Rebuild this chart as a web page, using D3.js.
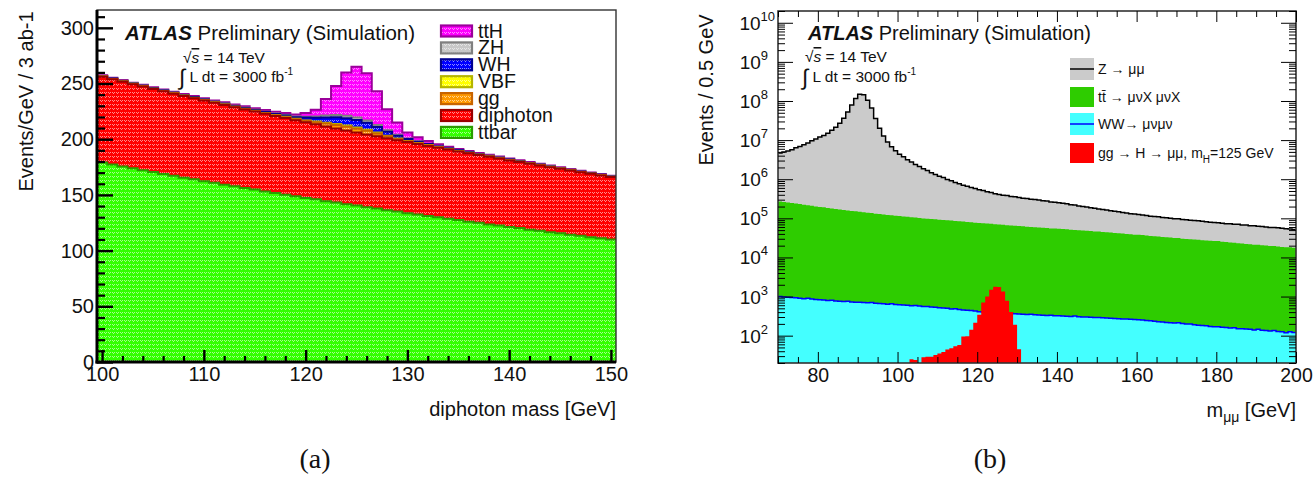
<!DOCTYPE html>
<html><head><meta charset="utf-8">
<script src="https://cdn.jsdelivr.net/npm/d3@7"></script>
<style>
body{margin:0;background:#fff;}
svg{display:block;}
</style></head><body>
<svg id="c" width="1314" height="490"></svg>
<script>
// ---------------- DATA: panel (a) diphoton mass, 1 GeV bins centred 100..150 ----------------
const gamBinCenters = d3.range(100, 151);
const gamTtbar = [179.0,177.4,175.5,174.0,172.1,170.6,168.7,167.3,165.5,164.1,
162.3,160.9,159.2,157.8,156.1,154.8,153.1,151.8,150.1,148.9,
147.2,146.0,144.4,143.2,141.6,140.4,138.9,137.7,136.2,135.1,
133.6,132.5,131.0,129.9,128.5,127.4,126.0,125.0,123.5,122.5,
121.2,120.2,118.8,117.9,116.5,115.6,114.3,113.4,112.1,111.2,110.0];
const gamDiphoton = [77.0,76.4,76.1,75.4,75.2,74.5,74.3,73.6,73.3,72.7,
72.4,71.8,71.5,70.9,70.6,70.0,69.7,69.1,68.9,68.2,
68.0,67.4,67.1,66.5,66.3,65.7,65.4,64.9,64.6,64.0,
63.8,63.2,63.0,62.4,62.2,61.6,61.4,60.8,60.7,60.1,
59.8,59.3,59.1,58.5,58.4,57.8,57.6,57.0,56.8,56.3,56.0];
const gamGG = [0.2,0.2,0.2,0.2,0.2,0.2,0.2,0.3,0.3,0.3,
0.3,0.3,0.4,0.4,0.4,0.5,0.5,0.6,
0.8,0.9,1.3,1.8,2.5,3.0,3.3,3.4,3.2,2.6,1.8,1.2,0.8,0.6,0.5,0.4,0.3,
0.3,0.3,0.2,0.2,0.2,0.2,0.2,0.2,0.2,0.2,0.1,0.1,0.1,0.1,0.1,0.1];
const gamVBF = [0.1,0.1,0.1,0.1,0.1,0.1,0.1,0.1,0.1,0.1,
0.1,0.1,0.1,0.1,0.2,0.2,0.2,0.2,
0.3,0.3,0.4,0.6,0.8,1.0,1.1,1.1,1.0,0.8,0.6,0.4,0.3,0.2,0.2,0.1,0.1,
0.1,0.1,0.1,0.1,0.1,0.1,0.1,0.1,0.1,0.1,0.1,0.1,0.1,0.1,0.1,0.1];
const gamWH = [0.4,0.4,0.4,0.4,0.5,0.5,0.5,0.5,0.5,0.6,
0.6,0.6,0.7,0.7,0.8,0.8,0.9,1.0,
1.2,1.5,2.5,3.5,4.8,6.0,6.5,6.6,6.2,5.0,3.6,2.5,1.6,1.2,0.9,0.7,0.6,
0.6,0.5,0.5,0.5,0.5,0.4,0.4,0.4,0.4,0.4,0.4,0.3,0.3,0.3,0.3,0.3];
const gamZH = [0.1,0.1,0.1,0.1,0.1,0.1,0.1,0.1,0.1,0.1,
0.1,0.1,0.2,0.2,0.2,0.2,0.3,0.3,
0.4,0.5,0.8,1.1,1.6,2.0,2.3,2.4,2.2,1.8,1.3,0.9,0.6,0.4,0.3,0.2,0.2,
0.1,0.1,0.1,0.1,0.1,0.1,0.1,0.1,0.1,0.1,0.1,0.1,0.1,0.1,0.1,0.1];
const gamTtH = [0.6,0.6,0.7,0.6,0.7,0.7,0.7,0.8,0.8,0.8,
0.9,0.9,1.0,1.1,1.2,1.3,1.5,1.6,
1.8,1.8,3.3,6.0,14.8,26.0,38.8,45.5,42.4,30.3,18.7,11.0,5.4,3.6,2.6,1.8,1.4,
1.2,1.1,1.0,0.9,0.9,0.8,0.8,0.8,0.7,0.7,0.7,0.7,0.6,0.6,0.6,0.6];
const gamYTicks = [0, 50, 100, 150, 200, 250, 300];
const gamXTicks = [100, 110, 120, 130, 140, 150];
const gamLegend = ["ttH", "ZH", "WH", "VBF", "gg", "diphoton", "ttbar"];

// ---------------- DATA: panel (b) m_mumu, 1 GeV bins, lower edges 70..199 ----------------
const mmBinLow = d3.range(70, 200);
const mmZ = [4.41e6,4.72e6,5.02e6,5.46e6,6.10e6,6.65e6,7.40e6,8.25e6,9.40e6,1.05e7,
1.18e7,1.30e7,1.49e7,1.76e7,2.12e7,2.67e7,3.60e7,5.20e7,7.90e7,1.15e8,
1.48e8,1.45e8,1.05e8,6.60e7,3.55e7,2.00e7,1.26e7,8.80e6,6.65e6,5.25e6,
4.25e6,3.62e6,3.03e6,2.66e6,2.27e6,2.00e6,1.75e6,1.57e6,1.37e6,1.23e6,
1.10e6,1.02e6,9.00e5,8.30e5,7.40e5,6.80e5,6.20e5,5.85e5,5.35e5,5.00e5,
4.60e5,4.40e5,4.02e5,3.88e5,3.55e5,3.40e5,3.20e5,3.15e5,2.95e5,2.92e5,
2.76e5,2.66e5,2.60e5,2.45e5,2.42e5,2.35e5,2.24e5,2.20e5,2.08e5,2.02e5,
1.97e5,1.88e5,1.83e5,1.72e5,1.68e5,1.58e5,1.52e5,1.46e5,1.38e5,1.34e5,
1.28e5,1.23e5,1.18e5,1.13e5,1.10e5,1.06e5,1.00e5,9.80e4,9.20e4,9.00e4,
8.80e4,8.40e4,8.20e4,7.80e4,7.70e4,7.50e4,7.20e4,7.00e4,6.80e4,6.70e4,
6.60e4,6.30e4,6.20e4,6.00e4,5.90e4,5.80e4,5.60e4,5.50e4,5.30e4,5.25e4,
5.10e4,5.00e4,4.80e4,4.90e4,4.70e4,4.70e4,4.50e4,4.50e4,4.30e4,4.30e4,
4.20e4,4.10e4,4.00e4,3.90e4,3.90e4,3.80e4,3.70e4,3.60e4,3.55e4,3.45e4];
const mmTT = [2.68e5,2.60e5,2.52e5,2.45e5,2.37e5,2.30e5,2.22e5,2.16e5,2.08e5,2.01e5,
1.94e5,1.90e5,1.83e5,1.78e5,1.73e5,1.67e5,1.63e5,1.58e5,1.53e5,1.50e5,
1.47e5,1.42e5,1.38e5,1.36e5,1.31e5,1.28e5,1.25e5,1.21e5,1.19e5,1.16e5,
1.14e5,1.11e5,1.09e5,1.06e5,1.04e5,1.01e5,9.9e4,9.7e4,9.5e4,9.4e4,
9.2e4,9.0e4,8.9e4,8.7e4,8.5e4,8.4e4,8.2e4,8.0e4,7.9e4,7.7e4,
7.6e4,7.4e4,7.3e4,7.2e4,7.0e4,6.9e4,6.8e4,6.6e4,6.5e4,6.4e4,
6.3e4,6.2e4,6.1e4,6.0e4,5.9e4,5.8e4,5.7e4,5.6e4,5.5e4,5.45e4,
5.4e4,5.3e4,5.2e4,5.1e4,5.0e4,4.95e4,4.85e4,4.75e4,4.7e4,4.6e4,
4.55e4,4.45e4,4.4e4,4.3e4,4.2e4,4.15e4,4.05e4,3.95e4,3.9e4,3.8e4,
3.75e4,3.7e4,3.6e4,3.5e4,3.45e4,3.4e4,3.3e4,3.25e4,3.2e4,3.1e4,
3.1e4,3.0e4,2.95e4,2.9e4,2.85e4,2.8e4,2.75e4,2.7e4,2.65e4,2.6e4,
2.6e4,2.5e4,2.45e4,2.4e4,2.35e4,2.3e4,2.25e4,2.2e4,2.15e4,2.1e4,
2.1e4,2.05e4,2.0e4,1.95e4,1.95e4,1.9e4,1.85e4,1.8e4,1.8e4,1.75e4];
const mmWW = [1000,980,960,950,930,910,880,900,860,840,
830,820,790,800,770,760,745,760,730,720,
720,700,690,700,670,660,650,640,650,630,
620,610,600,580,590,570,555,560,540,530,
520,510,500,480,490,470,455,445,440,425,
410,405,400,395,390,380,385,375,370,365,
360,355,350,355,345,340,335,330,335,325,
325,320,315,310,318,305,300,300,295,290,
290,285,282,278,275,272,268,265,262,258,
257,250,245,242,235,228,225,218,215,212,
215,205,200,198,190,185,182,178,172,170,
170,165,162,158,160,150,150,148,145,140,
145,138,135,132,135,128,125,118,125,120];
const mmSigLow = d3.range(103, 131);
const mmSig = [25,24,0,28,29,29,32,35,38,44,48,54,58,95,96,142,214,344,700,1000,1500,1790,1750,1350,780,400,190,45];
const mmXTicks = [80, 100, 120, 140, 160, 180, 200];
const mmYDecades = [2, 3, 4, 5, 6, 7, 8, 9, 10];

// ---------------- DRAWING ----------------
const FONT = '"Liberation Sans", Arial, Helvetica, sans-serif';
const svg = d3.select('#c').attr('font-family', FONT);
const defs = svg.append('defs');

function makePattern(id, color) {
  const p = defs.append('pattern').attr('id', id).attr('patternUnits', 'userSpaceOnUse')
    .attr('width', 4).attr('height', 4);
  p.append('rect').attr('width', 4).attr('height', 4).attr('fill', color);
  [[0,0],[2,0],[1,1]].forEach(([x,y]) => {
    p.append('rect').attr('x', x).attr('y', y).attr('width', 1).attr('height', 1)
      .attr('fill', '#fff').attr('opacity', 0.55);
  });
  return `url(#${id})`;
}

function styleAxis(g, size) {
  g.select('.domain').remove();
  g.attr('font-size', null).attr('font-family', null);
  g.selectAll('text').attr('font-size', size).attr('font-family', FONT).attr('fill', '#111');
}

// ===== Panel (a) =====
const A = {x0: 97, x1: 616, y0: 10, y1: 362};
const xA = d3.scaleLinear().domain([99.5, 150.5]).range([A.x0, A.x1]);
const yA = d3.scaleLinear().domain([0, 316]).range([A.y1, A.y0]);

defs.append('clipPath').attr('id', 'clipA').append('rect')
  .attr('x', A.x0).attr('y', A.y0).attr('width', A.x1 - A.x0).attr('height', A.y1 - A.y0);

const gamSeries = [
  {key: 'ttbar', vals: gamTtbar, fill: '#33ff00', line: '#2a9c00'},
  {key: 'diphoton', vals: gamDiphoton, fill: '#ff0000', line: '#9a0000'},
  {key: 'gg', vals: gamGG, fill: '#ff9900', line: '#c86400'},
  {key: 'VBF', vals: gamVBF, fill: '#ffff00', line: '#b4b400'},
  {key: 'WH', vals: gamWH, fill: '#0000ff', line: '#000090'},
  {key: 'ZH', vals: gamZH, fill: '#c8c8c8', line: '#808080'},
  {key: 'ttH', vals: gamTtH, fill: '#ff00ff', line: '#9a009a'}
];
gamSeries.forEach(s => s.pat = makePattern('p_' + s.key, s.fill));
const gamRows = gamBinCenters.map((c, i) => {
  const r = {c};
  gamSeries.forEach(s => r[s.key] = s.vals[i]);
  return r;
});
const gamStack = d3.stack().keys(gamSeries.map(s => s.key))(gamRows);

const gA = svg.append('g').attr('clip-path', 'url(#clipA)');
const stepArea = (xs, ys, yb) => d3.area().curve(d3.curveStepAfter)
  .x(d => xs(d[0])).y0(yb).y1(d => ys(d[1]));
const stepLine = (xs, ys) => d3.line().curve(d3.curveStepAfter).x(d => xs(d[0])).y(d => ys(d[1]));

// ROOT-like: draw the cumulative sum of the top series first
for (let k = gamSeries.length - 1; k >= 0; k--) {
  const layer = gamStack[k];
  const pts = layer.map((d, i) => [gamBinCenters[i] - 0.5, d[1]]);
  pts.push([gamBinCenters[gamBinCenters.length - 1] + 0.5, layer[layer.length - 1][1]]);
  gA.append('path').attr('d', stepArea(xA, yA, A.y1)(pts)).attr('fill', gamSeries[k].pat);
  gA.append('path').attr('d', stepLine(xA, yA)(pts)).attr('fill', 'none')
    .attr('stroke', gamSeries[k].line).attr('stroke-width', 2);
}

// frame
svg.append('rect').attr('x', A.x0).attr('y', A.y0).attr('width', A.x1 - A.x0).attr('height', A.y1 - A.y0)
  .attr('fill', 'none').attr('stroke', '#333').attr('stroke-width', 1.4);

// axes (a)
const gYA = svg.append('g').attr('transform', `translate(${A.x0},0)`)
  .call(d3.axisLeft(yA).tickValues(gamYTicks).tickSizeInner(-16).tickSizeOuter(0).tickPadding(3));
styleAxis(gYA, 20);
gYA.selectAll('line').attr('stroke', '#000').attr('stroke-width', 2.4);
const gYAm = svg.append('g').attr('transform', `translate(${A.x0},0)`)
  .call(d3.axisLeft(yA).tickValues(d3.range(0, 316, 10).filter(v => v % 50)).tickSize(-8).tickFormat(''));
styleAxis(gYAm, 10);
gYAm.selectAll('line').attr('stroke', '#000').attr('stroke-width', 2.2);

const gXA = svg.append('g').attr('transform', `translate(0,${A.y1})`)
  .call(d3.axisBottom(xA).tickValues(gamXTicks).tickSizeInner(-12).tickSizeOuter(0).tickPadding(5).tickFormat(d3.format('d')));
styleAxis(gXA, 20);
gXA.selectAll('line').attr('stroke', '#000').attr('stroke-width', 2.4);
const gXAm = svg.append('g').attr('transform', `translate(0,${A.y1})`)
  .call(d3.axisBottom(xA).tickValues(d3.range(100, 151, 2).filter(v => v % 10)).tickSize(-6).tickFormat(''));
styleAxis(gXAm, 10);
gXAm.selectAll('line').attr('stroke', '#000').attr('stroke-width', 2.2);

svg.append('line').attr('x1', A.x0).attr('x2', A.x0).attr('y1', A.y0).attr('y2', A.y1 + 1.5)
  .attr('stroke', '#000').attr('stroke-width', 3);
svg.append('line').attr('x1', A.x0 - 1.5).attr('x2', A.x1).attr('y1', A.y1).attr('y2', A.y1)
  .attr('stroke', '#000').attr('stroke-width', 3);

// titles (a)
svg.append('text').attr('transform', `translate(33,${(A.y0 + 193) / 2}) rotate(-90)`)
  .attr('text-anchor', 'middle').attr('font-size', 20).attr('fill', '#111').text('Events/GeV / 3 ab-1');
svg.append('text').attr('x', A.x1).attr('y', 416).attr('text-anchor', 'end')
  .attr('font-size', 20).attr('fill', '#111').text('diphoton mass [GeV]');

function atlasLabel(x, y, size) {
  const t = svg.append('text').attr('x', x).attr('y', y).attr('font-size', size).attr('fill', '#111');
  t.append('tspan').attr('font-weight', 'bold').attr('font-style', 'italic').text('ATLAS');
  t.append('tspan').text(' Preliminary (Simulation)');
}
function energyLabel(x, y, size) {
  const t = svg.append('text').attr('x', x).attr('y', y).attr('font-size', size).attr('fill', '#111');
  t.append('tspan').text('√');
  t.append('tspan').attr('font-style', 'italic').attr('text-decoration', 'overline').text('s');
  t.append('tspan').text(' = 14 TeV');
}
function lumiLabel(x, y, size) {
  const t = svg.append('text').attr('x', x).attr('y', y).attr('font-size', size).attr('fill', '#111');
  t.append('tspan').attr('font-size', size * 1.45).attr('dy', 3).text('∫');
  t.append('tspan').attr('dy', -3).text(' L dt = 3000 fb');
  t.append('tspan').attr('font-size', size * 0.65).attr('dy', -7).text('-1');
}
atlasLabel(125, 40, 20.5);
energyLabel(183, 63, 15.5);
lumiLabel(179, 82, 15.5);

// legend (a)
const legA = svg.append('g');
gamLegend.forEach((name, i) => {
  const s = gamSeries.find(d => d.key === name);
  const yc = 31 + i * 16.9;
  legA.append('rect').attr('x', 441).attr('y', yc - 5.5).attr('width', 31).attr('height', 11)
    .attr('fill', s.pat).attr('stroke', s.line).attr('stroke-width', 2.2);
  legA.append('text').attr('x', 478).attr('y', yc + 6.5).attr('font-size', 19.5).attr('fill', '#111').text(name);
});

// ===== Panel (b) =====
const B = {x0: 778, x1: 1296, y0: 11, y1: 363};
const xB = d3.scaleLinear().domain([70, 200]).range([B.x0, B.x1]);
const yB = d3.scaleLog().domain([20, 2e10]).range([B.y1, B.y0]).clamp(true);
const yBsafe = v => yB(Math.max(v, 20));

defs.append('clipPath').attr('id', 'clipB').append('rect')
  .attr('x', B.x0).attr('y', B.y0).attr('width', B.x1 - B.x0).attr('height', B.y1 - B.y0);

const mmRows = mmBinLow.map((lo, i) => ({lo, WW: mmWW[i], tt: mmTT[i], Z: mmZ[i]}));
const mmStack = d3.stack().keys(['WW', 'tt', 'Z'])(mmRows);
const mmPts = layer => {
  const p = layer.map((d, i) => [mmBinLow[i], d[1]]);
  p.push([mmBinLow[mmBinLow.length - 1] + 1, layer[layer.length - 1][1]]);
  return p;
};
const gB = svg.append('g').attr('clip-path', 'url(#clipB)');
const areaB = d3.area().curve(d3.curveStepAfter).x(d => xB(d[0])).y0(B.y1).y1(d => yBsafe(d[1]));
const lineB = d3.line().curve(d3.curveStepAfter).x(d => xB(d[0])).y(d => yBsafe(d[1]));

const ptsZ = mmPts(mmStack[2]), ptsT = mmPts(mmStack[1]), ptsW = mmPts(mmStack[0]);
gB.append('path').attr('d', areaB(ptsZ)).attr('fill', '#cbcbcb');
gB.append('path').attr('d', areaB(ptsT)).attr('fill', '#2ecc00');
gB.append('path').attr('d', areaB(ptsW)).attr('fill', '#44ffff');
gB.append('path').attr('d', lineB(ptsZ)).attr('fill', 'none').attr('stroke', '#000').attr('stroke-width', 1.5);
gB.append('path').attr('d', lineB(ptsW)).attr('fill', 'none').attr('stroke', '#0000ff').attr('stroke-width', 1.5);
const sigPts = mmSig.map((v, i) => [mmSigLow[i], v]);
sigPts.push([mmSigLow[mmSigLow.length - 1] + 1, 0]);
gB.append('path').attr('d', areaB(sigPts)).attr('fill', '#ff0000');

// frame (b)
svg.append('rect').attr('x', B.x0).attr('y', B.y0).attr('width', B.x1 - B.x0).attr('height', B.y1 - B.y0)
  .attr('fill', 'none').attr('stroke', '#333').attr('stroke-width', 1.6);

// x axis (b)
const gXB = svg.append('g').attr('transform', `translate(0,${B.y1})`)
  .call(d3.axisBottom(xB).tickValues(mmXTicks).tickSizeInner(-11).tickSizeOuter(0).tickPadding(5));
styleAxis(gXB, 19.5);
const minorX = d3.range(70, 201, 5).filter(v => v % 20);
const gXBm = svg.append('g').attr('transform', `translate(0,${B.y1})`)
  .call(d3.axisBottom(xB).tickValues(minorX).tickSize(-6).tickFormat(''));
styleAxis(gXBm, 10);
const gXBt = svg.append('g').attr('transform', `translate(0,${B.y0})`)
  .call(d3.axisTop(xB).tickValues(mmXTicks).tickSize(-11).tickFormat(''));
styleAxis(gXBt, 10);
const gXBtm = svg.append('g').attr('transform', `translate(0,${B.y0})`)
  .call(d3.axisTop(xB).tickValues(minorX).tickSize(-6).tickFormat(''));
styleAxis(gXBtm, 10);

// y axis (b)
const majorY = mmYDecades.map(e => Math.pow(10, e));
const minorY = [];
for (let e = 1; e <= 10; e++) for (let k = 2; k <= 9; k++) {
  const v = k * Math.pow(10, e);
  if (v >= 20 && v <= 2e10) minorY.push(v);
}
[[d3.axisLeft, B.x0], [d3.axisRight, B.x1]].forEach(([ax, xpos]) => {
  const g1 = svg.append('g').attr('transform', `translate(${xpos},0)`)
    .call(ax(yB).tickValues(majorY).tickSize(-15).tickFormat(''));
  styleAxis(g1, 10);
  const g2 = svg.append('g').attr('transform', `translate(${xpos},0)`)
    .call(ax(yB).tickValues(minorY).tickSize(-7).tickFormat(''));
  styleAxis(g2, 10);
});
mmYDecades.forEach(e => {
  const t = svg.append('text').attr('x', 768 + (e >= 10 ? 7 : 0)).attr('y', yB(Math.pow(10, e)) + 7)
    .attr('text-anchor', 'end').attr('font-size', 19).attr('fill', '#111');
  t.append('tspan').text('10');
  t.append('tspan').attr('font-size', 13).attr('dy', -9).text(String(e));
});

// titles (b)
svg.append('text').attr('transform', `translate(713,90) rotate(-90)`)
  .attr('text-anchor', 'middle').attr('font-size', 20).attr('fill', '#111').text('Events / 0.5 GeV');
const xt = svg.append('text').attr('x', B.x1).attr('y', 417).attr('text-anchor', 'end')
  .attr('font-size', 20).attr('fill', '#111');
xt.append('tspan').text('m');
xt.append('tspan').attr('font-size', 14).attr('dy', 5).text('μμ');
xt.append('tspan').attr('dy', -5).text(' [GeV]');

atlasLabel(808, 40, 20);
energyLabel(805, 62, 15.5);
lumiLabel(802, 82, 15.5);

// legend (b)
const legB = svg.append('g');
const legBItems = [
  {fill: '#cbcbcb', line: '#000', yc: 69, h: 22},
  {fill: '#2ecc00', line: null, yc: 97, h: 20},
  {fill: '#44ffff', line: '#0000ff', yc: 124, h: 22},
  {fill: '#ff0000', line: null, yc: 153, h: 20}
];
legBItems.forEach(it => {
  legB.append('rect').attr('x', 1070).attr('y', it.yc - it.h / 2).attr('width', 24).attr('height', it.h)
    .attr('fill', it.fill);
  if (it.line) legB.append('line').attr('x1', 1070).attr('x2', 1094).attr('y1', it.yc).attr('y2', it.yc)
    .attr('stroke', it.line).attr('stroke-width', 1.5);
});
const lt = (yc) => legB.append('text').attr('x', 1098).attr('y', yc + 5).attr('font-size', 14).attr('fill', '#111');
lt(69).text('Z → μμ');
lt(97).text('tt\u0304 → μνX μνX');
lt(124).text('WW→ μνμν');
const l4 = lt(153);
l4.append('tspan').text('gg → H → μμ, m');
l4.append('tspan').attr('font-size', 10).attr('dy', 5).text('H');
l4.append('tspan').attr('dy', -5).text('=125 GeV');

// captions
svg.append('text').attr('x', 315).attr('y', 468).attr('text-anchor', 'middle')
  .attr('font-family', '"Liberation Serif", "Times New Roman", serif').attr('font-size', 28).attr('fill', '#111').text('(a)');
svg.append('text').attr('x', 990).attr('y', 468).attr('text-anchor', 'middle')
  .attr('font-family', '"Liberation Serif", "Times New Roman", serif').attr('font-size', 28).attr('fill', '#111').text('(b)');
</script>
</body></html>
